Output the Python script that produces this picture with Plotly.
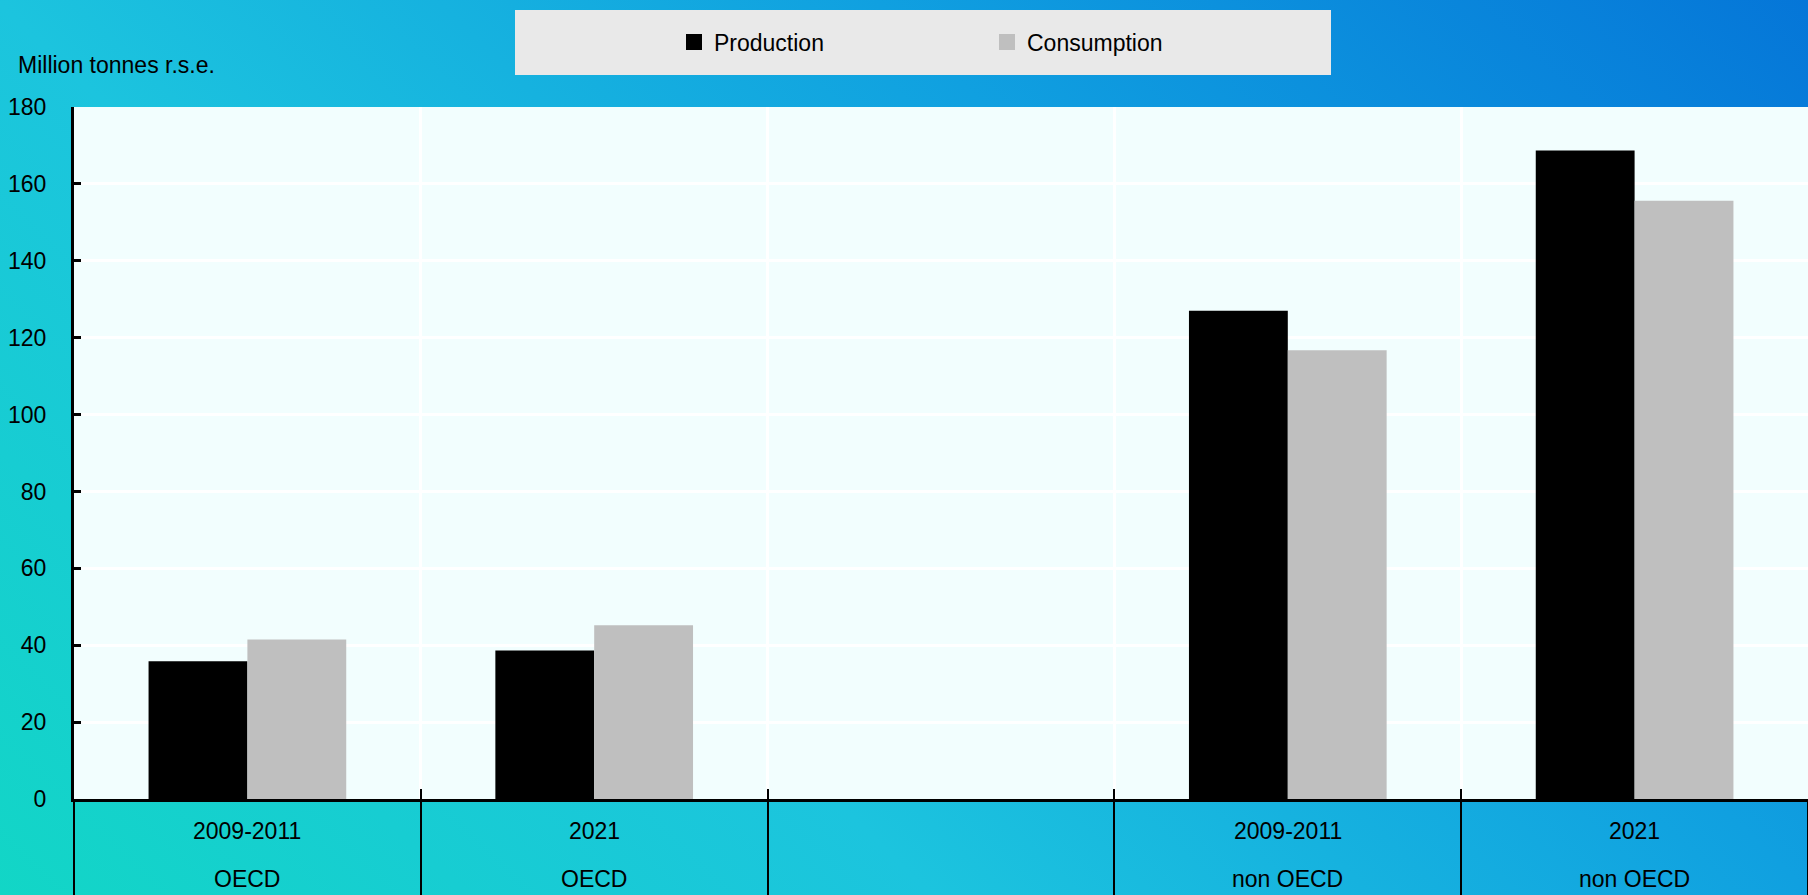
import base64
import plotly.graph_objects as go

# ---- data ----
periods = ["2009-2011", "2021", "", "2009-2011", "2021"]
regions = ["OECD", "OECD", "", "non OECD", "non OECD"]
categories = ["2009-2011 OECD", "2021 OECD", " ", "2009-2011 non OECD", "2021 non OECD"]
production = [35.8, 38.6, None, 127.0, 168.7]
consumption = [41.5, 45.2, None, 116.7, 155.6]
y_title = "Million tonnes r.s.e."
series_names = ["Production", "Consumption"]
series_colors = ["#000000", "#bfbfbf"]

W, H = 1808, 895
ML, MR, MT, MB = 74, 0, 107, 96
PW, PH = W - ML - MR, H - MT - MB

def px_x(px):
    return (px - ML) / PW

def px_y(py):
    return (H - MB - py) / PH

FONT = "Liberation Sans, Arial, sans-serif"
FS = 23

fig = go.Figure()
for name, vals, col in zip(series_names, [production, consumption], series_colors):
    fig.add_trace(go.Bar(x=categories, y=vals, name=name, marker_color=col,
                         marker_line_width=0, showlegend=False, legendgroup=name))
    # legend proxy with a larger square symbol
    fig.add_trace(go.Scatter(x=[None], y=[None], mode="markers", name=name,
                             legendgroup=name,
                             marker=dict(symbol="square", size=21, color=col)))

# background gradient as svg image
svg = (
    f'<svg xmlns="http://www.w3.org/2000/svg" width="{W}" height="{H}" viewBox="0 0 {W} {H}" '
    'preserveAspectRatio="none"><defs><linearGradient id="g" gradientUnits="userSpaceOnUse" '
    f'x1="0" y1="{H}" x2="1310" y2="-476">'
    '<stop offset="0" stop-color="#12d6c6"/><stop offset="0.34" stop-color="#1cc4de"/>'
    '<stop offset="0.66" stop-color="#10a0e0"/><stop offset="1" stop-color="#0576d8"/>'
    f'</linearGradient></defs><rect width="{W}" height="{H}" fill="url(#g)"/></svg>'
)
src = "data:image/svg+xml;base64," + base64.b64encode(svg.encode()).decode()

annotations = [
    dict(text=y_title, xref="paper", yref="paper", x=px_x(16), y=px_y(65),
         xanchor="left", yanchor="middle", showarrow=False,
         font=dict(family=FONT, size=FS, color="black"))
]
for cat, p, r in zip(categories, periods, regions):
    if p:
        annotations.append(dict(text=p, xref="x", yref="paper", x=cat, y=px_y(831),
                                xanchor="center", yanchor="middle", showarrow=False,
                                font=dict(family=FONT, size=FS, color="black")))
    if r:
        annotations.append(dict(text=r, xref="x", yref="paper", x=cat, y=px_y(879),
                                xanchor="center", yanchor="middle", showarrow=False,
                                font=dict(family=FONT, size=FS, color="black")))

fig.update_layout(
    width=W, height=H,
    margin=dict(l=ML, r=MR, t=MT, b=MB, pad=0),
    paper_bgcolor="#1cc4de",
    plot_bgcolor="rgba(0,0,0,0)",
    font=dict(family=FONT, size=FS, color="black"),
    barmode="group", bargap=0.43, bargroupgap=0,
    images=[dict(source=src, xref="paper", yref="paper", x=px_x(0), y=px_y(0),
                 sizex=W / PW, sizey=H / PH, xanchor="left", yanchor="top",
                 sizing="stretch", layer="below")],
    shapes=[
        dict(type="rect", xref="paper", yref="paper", x0=0, x1=1, y0=0, y1=1,
             fillcolor="#f2fefe", line_width=0, layer="below"),
        dict(type="rect", xref="paper", yref="paper", x0=px_x(515), x1=px_x(1331),
             y0=px_y(75), y1=px_y(10), fillcolor="#e9e9e9", line_width=0, layer="below"),
    ],
    legend=dict(orientation="h", x=px_x(674), xanchor="left", y=px_y(42), yanchor="middle",
                bgcolor="rgba(0,0,0,0)", entrywidth=268, entrywidthmode="pixels",
                font=dict(family=FONT, size=FS, color="black"), itemclick=False),
    annotations=annotations,
    xaxis=dict(type="category", categoryorder="array", categoryarray=categories,
               tickson="boundaries", ticks="outside", ticklen=96, tickwidth=2,
               tickcolor="black", showticklabels=False,
               showgrid=True, gridcolor="white", gridwidth=3,
               showline=True, linecolor="black", linewidth=3, zeroline=False),
    xaxis2=dict(type="category", categoryorder="array", categoryarray=categories,
                overlaying="x", matches="x", anchor="y", side="bottom",
                tickson="boundaries", ticks="inside", ticklen=10, tickwidth=2,
                tickcolor="black", showticklabels=False, showgrid=False, showline=False),
    yaxis=dict(range=[0, 180], dtick=20, ticks="inside", ticklen=7, tickwidth=3,
               tickcolor="black", showline=True, linecolor="black", linewidth=3,
               gridcolor="white", gridwidth=3, zeroline=False,
               ticklabelstandoff=20,
               tickfont=dict(family=FONT, size=FS, color="black")),
)
# attach an invisible trace to xaxis2 so its ticks render
fig.add_trace(go.Scatter(x=categories, y=[None] * len(categories), xaxis="x2",
                         showlegend=False, hoverinfo="skip", mode="markers"))

fig.write_html("out.html", config={"displayModeBar": False},
               post_script="document.body.style.margin='0px';document.body.style.overflow='hidden';")
